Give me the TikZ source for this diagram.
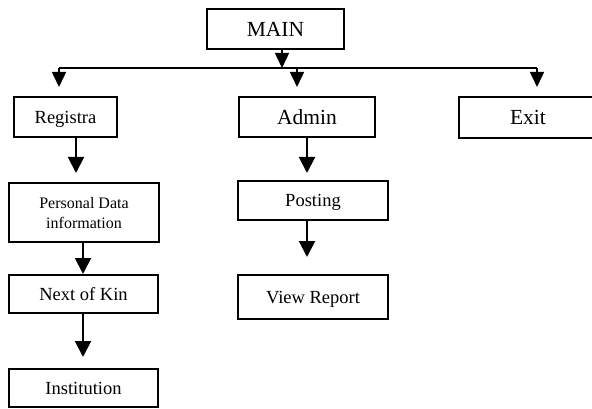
\documentclass[tikz,border=0pt]{standalone}
\usepackage{fontspec}
\setmainfont{Liberation Serif}
\usetikzlibrary{arrows.meta}
\tikzset{
  box/.style={draw=black, line width=1.3pt, inner sep=0pt, anchor=center, align=center, text depth=0pt, font=\fontsize{18.5}{20}\selectfont},
  bigtext/.style={font=\fontsize{21.5}{23}\selectfont},
  smalltext/.style={font=\fontsize{16}{20}\selectfont},
  arr/.style={line width=2pt, -{Triangle[length=16pt,width=16pt]}},
  thinarr/.style={line width=1.5pt, -{Triangle[length=15pt,width=14pt]}},
  bus/.style={line width=1.5pt}
}
\begin{document}
\begin{tikzpicture}[x=1pt,y=-1pt]
\useasboundingbox (0,0) rectangle (592,409);
% boxes
\node[box,bigtext,minimum width=137pt,minimum height=40pt] (main) at (275.5,29) {MAIN};
\node[box,minimum width=103pt,minimum height=40pt] (reg) at (65.5,117) {Registra};
\node[box,bigtext,minimum width=136pt,minimum height=40pt] (admin) at (307,117) {Admin};
\node[box,bigtext,minimum width=138pt,minimum height=41pt] (exit) at (528,117.5) {Exit};
\node[box,smalltext,minimum width=150pt,minimum height=59pt] (pers) at (84,212.5) {Personal Data\\information};
\node[box,minimum width=149pt,minimum height=38pt] (kin) at (83.5,294) {Next of Kin};
\node[box,minimum width=149pt,minimum height=38pt] (inst) at (83.5,388) {Institution};
\node[box,minimum width=150pt,minimum height=39pt] (post) at (313,200.5) {Posting};
\node[box,minimum width=150pt,minimum height=44pt] (view) at (313,297) {View Report};
% bus coordinates
\coordinate (mj) at (282,68);
\coordinate (bl) at (59,68);
\coordinate (bm) at (297,68);
\coordinate (br) at (537,68);
\coordinate (tl) at (59,87);
\coordinate (tm) at (297,87);
\coordinate (tr) at (537,87);
% arrow tips
\coordinate (t1) at (76,173);
\coordinate (t2) at (83,274);
\coordinate (t3) at (83,357);
\coordinate (t4) at (307,173);
\coordinate (t5) at (307,257);
% connectors
\draw[thinarr] (main.south -| mj) -- (mj);
\draw[bus] (bl) -- (br);
\draw[thinarr] (bl) -- (tl);
\draw[thinarr] (bm) -- (tm);
\draw[thinarr] (br) -- (tr);
\draw[arr] (reg.south -| t1) -- (t1);
\draw[arr] (pers.south -| t2) -- (t2);
\draw[arr] (kin.south -| t3) -- (t3);
\draw[arr] (admin.south -| t4) -- (t4);
\draw[arr] (post.south -| t5) -- (t5);
\end{tikzpicture}
\end{document}
